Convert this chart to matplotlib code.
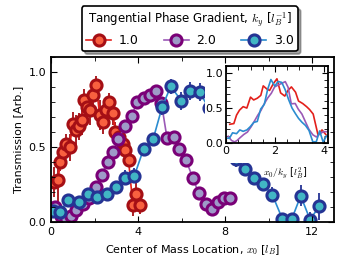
import numpy as np
import matplotlib
matplotlib.use("Agg")
import matplotlib.pyplot as plt
from matplotlib.ticker import MultipleLocator
from matplotlib.patches import Rectangle

# ---- data ----
ky_labels = ["1.0", "2.0", "3.0"]
ky_values = [1.0, 2.0, 3.0]

x_red = [0.15, 0.32, 0.43, 0.55, 0.70, 0.85, 1.00, 1.13, 1.28, 1.42, 1.52, 1.67, 1.78, 1.94,
         2.08, 2.23, 2.40, 2.53, 2.67, 2.84, 2.96, 3.13, 3.29, 3.41, 3.56, 3.76, 3.92, 4.10]
y_red = [0.27, 0.28, 0.40, 0.47, 0.52, 0.50, 0.655, 0.615, 0.64, 0.68, 0.815, 0.77, 0.75, 0.85,
         0.915, 0.715, 0.67, 0.75, 0.80, 0.725, 0.60, 0.565, 0.52, 0.48, 0.415, 0.115, 0.19, 0.115]
e_red = [0.10, 0.15, 0.06, 0.08, 0.07, 0.09, 0.08, 0.10, 0.09, 0.10, 0.07, 0.08, 0.10, 0.08,
         0.06, 0.10, 0.08, 0.07, 0.06, 0.08, 0.07, 0.06, 0.06, 0.05, 0.05, 0.07, 0.08, 0.06]

x_pur = [0.18, 0.45, 0.70, 0.90, 1.15, 1.45, 1.75, 2.05, 2.32, 2.60, 2.85, 3.10, 3.40, 3.70, 3.97,
         4.27, 4.55, 4.84, 5.07, 5.33, 5.65, 5.90, 6.20, 6.52, 6.78, 7.10, 7.38, 7.66, 7.94, 8.23]
y_pur = [0.10, 0.04, 0.02, 0.04, 0.08, 0.125, 0.16, 0.235, 0.315, 0.40, 0.465, 0.553, 0.642, 0.71,
         0.80, 0.828, 0.85, 0.875, 0.795, 0.56, 0.565, 0.485, 0.415, 0.293, 0.195, 0.12, 0.09,
         0.133, 0.165, 0.165]
e_pur = [0.02] * len(x_pur)

x_blu = [0.08, 0.41, 0.80, 1.29, 1.69, 2.10, 2.56, 2.98, 3.41, 3.83, 4.25, 4.69, 5.10, 5.50,
         5.98, 6.37, 6.83, 7.25, 7.67, 8.09, 8.51, 8.89, 9.32, 9.74, 10.17, 10.63, 11.06, 11.47,
         11.90, 12.32]
y_blu = [0.075, 0.07, 0.149, 0.137, 0.19, 0.17, 0.19, 0.237, 0.297, 0.31, 0.487, 0.553, 0.765,
         0.905, 0.81, 0.877, 0.864, 0.76, 0.62, 0.50, 0.42, 0.353, 0.297, 0.253, 0.182, 0.022,
         0.022, 0.176, 0.018, 0.106]
e_blu = [0.03, 0.04, 0.04, 0.04, 0.04, 0.05, 0.04, 0.04, 0.05, 0.05, 0.04, 0.04, 0.05, 0.05,
         0.06, 0.06, 0.06, 0.05, 0.05, 0.05, 0.05, 0.04, 0.04, 0.04, 0.05, 0.04, 0.04, 0.07,
         0.05, 0.09]

series = [
    (x_red, y_red, e_red, "#e3201b", "#a50f15", "#f8603f"),
    (x_pur, y_pur, e_pur, "#9b59b6", "#7a0177", "#9e9ac8"),
    (x_blu, y_blu, e_blu, "#2b8cd0", "#253494", "#41b6c4"),
]

plt.rcParams.update({
    "font.family": "DejaVu Sans",
    "font.size": 8,
    "mathtext.fontset": "cm",
    "xtick.direction": "in",
    "ytick.direction": "in",
    "xtick.top": True,
    "ytick.right": True,
    "xtick.major.size": 4,
    "ytick.major.size": 4,
    "xtick.minor.size": 3,
    "ytick.minor.size": 3,
    "axes.linewidth": 1.3,
})

fig = plt.figure(figsize=(3.41, 2.62), dpi=100)
ax = fig.add_axes([0.1496, 0.1515, 0.8299, 0.6309])

handles = []
for (x, y, e, lc, ec, fc) in series:
    cont = ax.errorbar(x, y, yerr=e, fmt="o-", color=lc, mfc=fc, mec=ec, ms=8, mew=2.2,
                       ecolor=ec, elinewidth=1.3, capsize=0, lw=1.2, zorder=2)
    handles.append(cont[0])

ax.set_xlim(0, 13.0)
ax.set_ylim(0, 1.1)
ax.xaxis.set_major_locator(MultipleLocator(4))
ax.xaxis.set_minor_locator(MultipleLocator(2))
ax.yaxis.set_major_locator(MultipleLocator(0.5))
ax.yaxis.set_minor_locator(MultipleLocator(0.1))
ax.set_xlabel("Center of Mass Location, $x_0$ [$l_B$]", fontsize=8, labelpad=4)
ax.set_ylabel("Transmission [Arb.]", fontsize=8, labelpad=4)
ax.xaxis.set_zorder(3)
ax.yaxis.set_zorder(3)

# white area behind the inset (hides the main curves there)
ax.add_patch(Rectangle((0.545, 0.357), 0.455, 0.643, transform=ax.transAxes,
                       facecolor="white", edgecolor="none", zorder=2.3))

# inset
axi = fig.add_axes([0.6628, 0.453, 0.298, 0.296])
for (x, y, e, lc, ec, fc), k in zip(series, ky_values):
    axi.plot(np.array(x) / k, y, color=lc, lw=1.2)
axi.set_xlim(0, 4.15)
axi.set_ylim(0, 1.1)
axi.xaxis.set_major_locator(MultipleLocator(2))
axi.xaxis.set_minor_locator(MultipleLocator(0.5))
axi.yaxis.set_major_locator(MultipleLocator(0.5))
axi.yaxis.set_minor_locator(MultipleLocator(0.1))
axi.tick_params(labelsize=8, pad=2)
axi.set_xlabel("$x_0/k_y$ [$l_B^2$]", fontsize=7)
axi.xaxis.set_label_coords(0.58, -0.29)

leg = fig.legend(handles, ky_labels, loc="upper center", bbox_to_anchor=(0.557, 1.0),
                 ncol=3, title="Tangential Phase Gradient, $k_y$ [$l_B^{-1}$]",
                 fontsize=9, title_fontsize=8.5, fancybox=True, shadow=True,
                 framealpha=1, edgecolor="black", handlelength=2.0, columnspacing=2.0,
                 borderpad=0.35, labelspacing=0.3, handletextpad=0.6)
leg.get_frame().set_linewidth(1.2)

fig.savefig("out.png", dpi=100)
